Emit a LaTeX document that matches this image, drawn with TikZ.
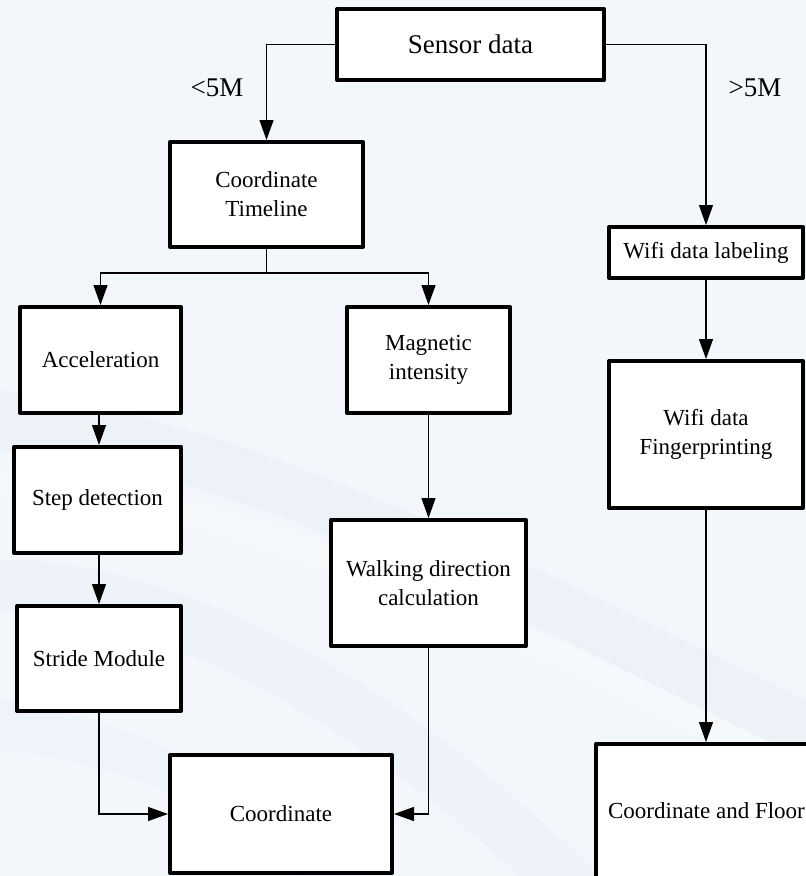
\documentclass[tikz,border=0pt]{standalone}
\usepackage{fontspec}
\setmainfont{LiberationSerif}[Extension=.ttf, UprightFont=*-Regular, BoldFont=*-Bold]
\usetikzlibrary{arrows.meta}
\definecolor{bgbase}{RGB}{243,247,252}
\definecolor{bgband}{RGB}{226,233,242}
\tikzset{
  box/.style={draw=black, fill=white, line width=4pt, line join=round, inner sep=0pt, align=center,
    font=\fontsize{23}{29}\selectfont},
  conn/.style={draw=black, line width=1.2pt},
  arr/.style={conn, -{Triangle[length=20pt,width=14pt]}},
  lbl/.style={font=\fontsize{27}{30}\selectfont, inner sep=0pt}
}
\begin{document}
\begin{tikzpicture}[x=1pt,y=-1pt]
\useasboundingbox (0,0) rectangle (806,876);
\fill[bgbase] (0,0) rectangle (806,876);
\begin{scope}
\clip (0,0) rectangle (806,876);
% faint background swooshes
\fill[bgband, opacity=0.35] (0,390) .. controls (250,420) and (520,560) .. (806,700) -- (806,760) .. controls (520,620) and (250,470) .. (0,450) -- cycle;
\fill[bgband, opacity=0.25] (0,560) .. controls (200,560) and (420,700) .. (600,876) -- (520,876) .. controls (360,730) and (180,620) .. (0,610) -- cycle;
\fill[white, opacity=0.25] (0,470) .. controls (260,490) and (520,620) .. (806,760) -- (806,785) .. controls (520,650) and (260,510) .. (0,495) -- cycle;
\fill[bgband, opacity=0.2] (0,700) .. controls (150,720) and (280,800) .. (360,876) -- (300,876) .. controls (230,810) and (120,760) .. (0,750) -- cycle;

% nodes
\node[box, font=\fontsize{27}{30}\selectfont, minimum width=267pt, minimum height=71pt] (sensor) at (470.5,44.5) {Sensor data};
\node[box, minimum width=193pt, minimum height=105pt] (timeline) at (266.5,194.5) {Coordinate\\Timeline};
\node[box, minimum width=194pt, minimum height=51pt] (wifilab) at (706,252.5) {Wifi data labeling};
\node[box, minimum width=161pt, minimum height=106pt] (accel) at (100.5,360) {Acceleration};
\node[box, minimum width=163pt, minimum height=106pt] (magn) at (428.5,360) {Magnetic\\intensity};
\node[box, minimum width=167pt, minimum height=106pt] (step) at (97.5,500) {Step detection};
\node[box, minimum width=194pt, minimum height=147pt] (wififp) at (706,434.5) {Wifi data\\Fingerprinting};
\node[box, minimum width=195pt, minimum height=126pt] (walk) at (428.5,583) {Walking direction\\calculation};
\node[box, minimum width=164pt, minimum height=105pt] (stride) at (99,658.5) {Stride Module};
\node[box, minimum width=222pt, minimum height=118pt] (coord) at (281,814) {Coordinate};
\node[box, minimum width=221pt, minimum height=134pt] (cfloor) at (706.5,811) {Coordinate and Floor};

% labels
\node[lbl] (lt) at (217,88) {<5M};
\node[lbl] (gt) at (755,88) {>5M};

% connectors
\draw[arr] (sensor.west) -| (timeline.north);
\draw[arr] (sensor.east) -| (wifilab.north);
\coordinate (br) at (266.5,273);
\draw[conn] (timeline.south) -- (br);
\draw[arr] (br) -| (accel.north);
\draw[arr] (br) -| (magn.north);
\coordinate (lx) at (99,0);
\draw[arr] (accel.south -| lx) -- (step.north -| lx);
\draw[arr] (step.south -| lx) -- (stride.north -| lx);
\draw[arr] (stride.south) |- (coord.west);
\draw[arr] (magn.south) -- (walk.north);
\draw[arr] (walk.south) |- (coord.east);
\draw[arr] (wifilab.south) -- (wififp.north);
\draw[arr] (wififp.south) -- (wififp.south |- cfloor.north);
\end{scope}
\end{tikzpicture}
\end{document}
